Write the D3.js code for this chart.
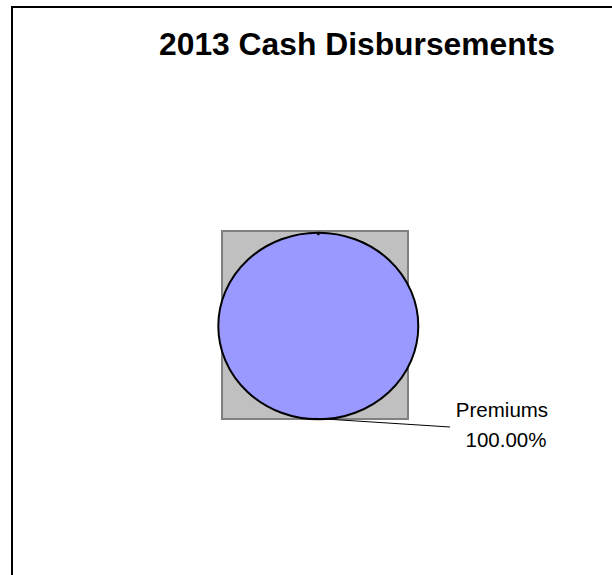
<!DOCTYPE html>
<html>
<head>
<meta charset="utf-8">
<script src="https://cdn.jsdelivr.net/npm/d3@7"></script>
<style>
  html, body { margin: 0; padding: 0; background: #fff; overflow: hidden; }
  svg { display: block; }
  text { font-family: "Liberation Sans", Arial, sans-serif; }
</style>
</head>
<body>
<script>
const w = 612;
const h = 575;

// chart data
const categories = ["Premiums"];
const values = [100];
const title = "2013 Cash Disbursements";

const sliceColor = "#9999ff";
const plotFill = "#c0c0c0";

const svg = d3.select("body")
  .append("svg")
  .attr("width", w)
  .attr("height", h);

// outer chart border, only left and top edges are on the page
svg.append("line")
  .attr("x1", 12).attr("y1", 6)
  .attr("x2", 12).attr("y2", h)
  .attr("stroke", "#000")
  .attr("stroke-width", 2);
svg.append("line")
  .attr("x1", 11).attr("y1", 7)
  .attr("x2", w).attr("y2", 7)
  .attr("stroke", "#000")
  .attr("stroke-width", 2);

svg.append("text")
  .attr("x", 357)
  .attr("y", 55)
  .attr("text-anchor", "middle")
  .style("font-size", "31.8px")
  .style("font-weight", "bold")
  .text(title);

// plot area
svg.append("rect")
  .attr("x", 222)
  .attr("y", 231)
  .attr("width", 186)
  .attr("height", 188)
  .attr("fill", plotFill)
  .attr("stroke", "#808080")
  .attr("stroke-width", 2);

const cx = 318.3, cy = 326, rx = 100, ry = 93.3;

const pie = d3.pie().sort(null).value(d => d);
const arcs = pie(values);
const arc = d3.arc().innerRadius(0).outerRadius(rx);

const g = svg.append("g")
  .attr("transform", `translate(${cx},${cy}) scale(1,${ry / rx})`);

g.selectAll("path")
  .data(arcs)
  .enter()
  .append("path")
  .attr("d", arc)
  .attr("fill", (d, i) => sliceColor)
  .attr("stroke", "#000")
  .attr("stroke-width", 2)
  .attr("vector-effect", "non-scaling-stroke");

// little notch where the slice starts
svg.append("path")
  .attr("d", `M${cx},${cy - ry} l0,2.5`)
  .attr("stroke", "#000")
  .attr("stroke-width", 2.5);

// leader line + label
const total = d3.sum(values);
arcs.forEach((d, i) => {
  svg.append("line")
    .attr("x1", cx - 4)
    .attr("y1", cy + ry - 1)
    .attr("x2", 450)
    .attr("y2", 427)
    .attr("stroke", "#000")
    .attr("stroke-width", 1);

  const lbl = svg.append("text")
    .attr("text-anchor", "middle")
    .style("font-size", "20.5px");
  lbl.append("tspan")
    .attr("x", 502)
    .attr("y", 417)
    .text(categories[i]);
  lbl.append("tspan")
    .attr("x", 506)
    .attr("y", 446.5)
    .text((values[i] / total * 100).toFixed(2) + "%");
});
</script>
</body>
</html>
